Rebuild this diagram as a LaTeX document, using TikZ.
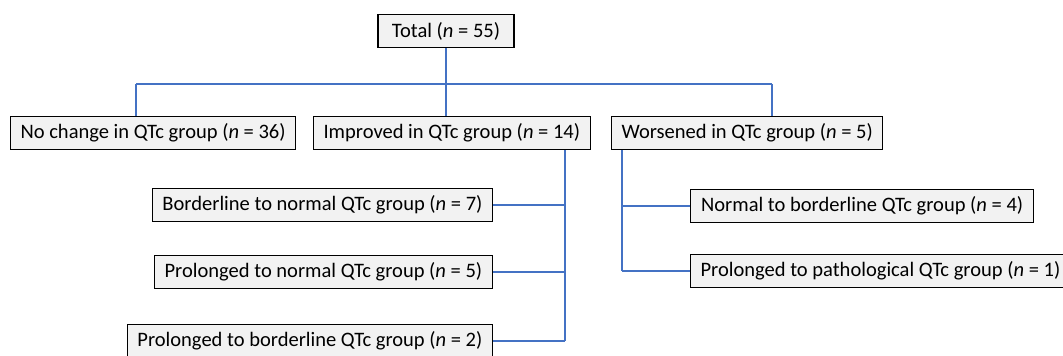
\documentclass[tikz,border=0pt]{standalone}
\usepackage{fontspec}
\setmainfont{Carlito}
\usetikzlibrary{calc}
\usetikzlibrary{positioning}

\begin{document}
\begin{tikzpicture}[%
  x=0.025cm, y=-0.025cm,
  box/.style={draw=black, line width=0.8pt, fill=black!5,
    minimum height=0.84cm, inner xsep=0.25cm, inner ysep=0pt,
    font=\fontsize{14.6}{17}\selectfont},
  link/.style={draw={rgb,255:red,68;green,114;blue,196}, line width=0.75pt},
]

  \useasboundingbox (0,0) rectangle (1063,355);

  \node[box, minimum width=3.4cm] (total) at (446,31) {Total (\textit{n} = 55)};

  \node[box, anchor=west, minimum width=7.125cm] (nochange) at (10,133) {No change in QTc group (\textit{n} = 36)};
  \node[box, anchor=west, minimum width=6.675cm] (improved) at (313,133) {Improved in QTc group (\textit{n} = 14)};
  \node[box, anchor=west, minimum width=6.725cm] (worsened) at (611,133) {Worsened in QTc group (\textit{n} = 5)};

  \node[box, anchor=east, minimum width=8.475cm] (bordnorm) at (493,205) {Borderline to normal QTc group (\textit{n} = 7)};
  \node[box, anchor=east, minimum width=8.45cm] (prolnorm) at (493,272) {Prolonged to normal QTc group (\textit{n} = 5)};
  \node[box, anchor=east, minimum width=9.125cm] (prolbord) at (493,341) {Prolonged to borderline QTc group (\textit{n} = 2)};

  \node[box, anchor=west, minimum width=8.575cm] (normbord) at (690,206) {Normal to borderline QTc group (\textit{n} = 4)};
  \node[box, anchor=west, minimum width=9.28cm] (prolpath) at (690,271) {Prolonged to pathological QTc group (\textit{n} = 1)};

  % bus under the total
  \coordinate (busL) at (136,84);
  \coordinate (busM) at (446,84);
  \coordinate (busR) at (772,84);
  \coordinate (trunkI) at (565,150);
  \coordinate (trunkW) at (622,150);

  \draw[link] (total.south) -- (busM);
  \draw[link] (busL) -- (busR);
  \draw[link] (busL) -- (busL |- nochange.north);
  \draw[link] (busM) -- (busM |- improved.north);
  \draw[link] (busR) -- (busR |- worsened.north);

  % improved
  \draw[link] (improved.south -| trunkI) -- (trunkI |- prolbord.east);
  \draw[link] (bordnorm.east) -- (bordnorm.east -| trunkI);
  \draw[link] (prolnorm.east) -- (prolnorm.east -| trunkI);
  \draw[link] (prolbord.east) -- (prolbord.east -| trunkI);

  % worsened
  \draw[link] (worsened.south -| trunkW) -- (trunkW |- prolpath.west);
  \draw[link] (normbord.west) -- (normbord.west -| trunkW);
  \draw[link] (prolpath.west) -- (prolpath.west -| trunkW);

\end{tikzpicture}
\end{document}
